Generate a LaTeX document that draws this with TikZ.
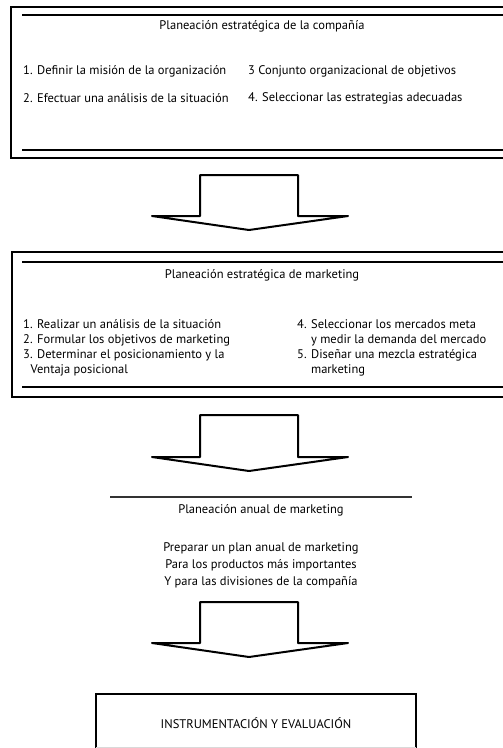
\documentclass[tikz,border=0pt]{standalone}
\usepackage{fontspec}
\setmainfont{PT Sans}
\usepackage{tikz}
\usetikzlibrary{positioning}

\begin{document}
\begin{tikzpicture}[x=1pt, y=-1pt,
    every node/.style={font=\fontsize{12.5}{15}\selectfont, inner sep=0pt},
    outerbox/.style={line width=2.8pt},
    innerline/.style={line width=1.2pt},
    bigarrow/.style={line width=2pt, line join=round}]
    \clip (0,0) rectangle (503,748);

    % Planeacion estrategica de la compania
    \draw[outerbox] (11,7) rectangle (520,158);
    \draw[innerline] (22,15) -- (520,15);
    \draw[innerline] (22,150) -- (520,150);
    \node (cia) at (262,26) {Planeación estratégica de la compañía};
    \node[anchor=west] (cia1) at (23,71) {1. Definir la misión de la organización};
    \node[anchor=west] (cia2) at (23,98) {2. Efectuar una análisis de la situación};
    \node[anchor=west] (cia3) at (248,71) {3 Conjunto organizacional de objetivos};
    \node[anchor=west] (cia4) at (248,98) {4. Seleccionar las estrategias adecuadas};

    % Arrow 1
    \draw[bigarrow] (200,175) -- (298,175) -- (298,216) -- (348,216) -- (249,230) -- (152,216) -- (200,216) -- cycle;

    % Planeacion estrategica de marketing
    \draw[outerbox] (12,252) rectangle (520,397);
    \draw[innerline] (22,262) -- (520,262);
    \draw[innerline] (22,387) -- (520,387);
    \node (mkt) at (262,275) {Planeación estratégica de marketing};
    \node[anchor=north west, align=left] (mktl) at (23,319) {1. Realizar un análisis de la situación\\
        2. Formular los objetivos de marketing\\
        3. Determinar el posicionamiento y la\\
        \hspace*{0.6em}Ventaja posicional};
    \node[anchor=north west, align=left] (mktr) at (297,319) {4. Seleccionar los mercados meta\\
        \phantom{4. }y medir la demanda del mercado\\
        5. Diseñar una mezcla estratégica\\
        \phantom{5. }marketing};

    % Arrow 2
    \draw[bigarrow] (200,415) -- (298,415) -- (298,457) -- (348,457) -- (249,471) -- (152,457) -- (200,457) -- cycle;

    % Planeacion anual de marketing
    \draw[line width=1.5pt, black!80] (110,497) -- (412,497);
    \node (anual) at (261,510) {Planeación anual de marketing};
    \node[align=center, below=26pt of anual] (plan) {Preparar un plan anual de marketing\\[2pt]
        Para los productos más importantes\\[2pt]
        Y para las divisiones de la compañía};

    % Arrow 3
    \draw[bigarrow] (200,602) -- (298,602) -- (298,643) -- (348,643) -- (249,657) -- (152,643) -- (200,643) -- cycle;

    % Instrumentacion y evaluacion
    \draw[outerbox] (96,752) -- (96,694) -- (416,694) -- (416,752);
    \draw[black!15] (96,747) -- (416,747);
    \node (eval) at (256,723) {INSTRUMENTACIÓN Y EVALUACIÓN};
\end{tikzpicture}
\end{document}
